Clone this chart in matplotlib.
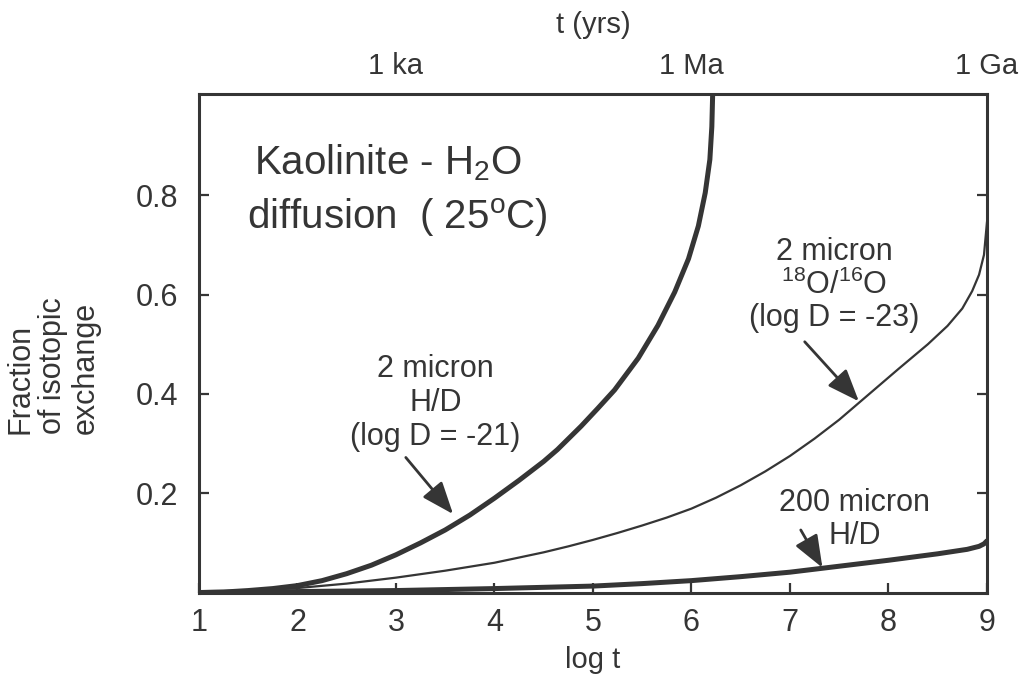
import matplotlib
matplotlib.use("Agg")
import matplotlib.pyplot as plt
import matplotlib as mpl

# log t (years) vs fraction of isotopic exchange
hd2_logt = [1.0, 1.25, 1.5, 1.75, 2.0, 2.25, 2.5, 2.75, 3.0, 3.25, 3.5, 3.75, 4.0,
            4.25, 4.5, 4.64, 4.88, 5.05, 5.22, 5.46, 5.66, 5.83, 5.97, 6.07, 6.14,
            6.187, 6.207, 6.215]
hd2_frac = [0.0, 0.001, 0.004, 0.008, 0.014, 0.024, 0.038, 0.055, 0.076, 0.1, 0.126,
            0.156, 0.19, 0.226, 0.264, 0.288, 0.335, 0.371, 0.408, 0.472, 0.538,
            0.605, 0.672, 0.738, 0.805, 0.872, 0.938, 1.0]

ox2_logt = [1.0, 1.5, 2.0, 2.5, 3.0, 3.5, 4.0, 4.5, 4.75, 5.0, 5.25, 5.5, 5.75, 6.0,
            6.25, 6.5, 6.75, 7.0, 7.25, 7.5, 7.8, 8.1, 8.4, 8.6, 8.75, 8.85, 8.92,
            8.97, 9.0]
ox2_frac = [0.0, 0.003, 0.009, 0.018, 0.03, 0.044, 0.06, 0.081, 0.093, 0.106, 0.12,
            0.135, 0.151, 0.169, 0.191, 0.216, 0.244, 0.275, 0.31, 0.348, 0.399,
            0.45, 0.5, 0.537, 0.572, 0.607, 0.64, 0.68, 0.745]

hd200_logt = [1.0, 2.0, 3.0, 4.0, 5.0, 5.5, 6.0, 6.5, 7.0, 7.5, 8.0, 8.5, 8.8, 8.92,
              8.97, 9.0]
hd200_frac = [0.0, 0.002, 0.004, 0.008, 0.013, 0.018, 0.024, 0.032, 0.041, 0.053,
              0.065, 0.078, 0.087, 0.093, 0.098, 0.104]

xticks = [1, 2, 3, 4, 5, 6, 7, 8, 9]
yticks = [0.2, 0.4, 0.6, 0.8]
age_ticks = [3, 6, 9]
age_labels = ["1 ka", "1 Ma", "1 Ga"]

ink = "#353535"

mpl.rc("font", family="Liberation Sans", size=22)
mpl.rc("mathtext", fontset="custom", rm="Liberation Sans", it="Liberation Sans:italic")
mpl.rc("text", color=ink)
mpl.rc("axes", edgecolor=ink, labelcolor=ink, linewidth=2.2)
mpl.rc("xtick", color=ink)
mpl.rc("ytick", color=ink)

fig = plt.figure(figsize=(10.24, 6.89), dpi=100)
ax = fig.add_axes([0.1943, 0.140, 0.7695, 0.7236])

ax.plot(hd2_logt, hd2_frac, color=ink, lw=3.6, solid_capstyle="butt")
ax.plot(ox2_logt, ox2_frac, color=ink, lw=1.6)
ax.plot(hd200_logt, hd200_frac, color=ink, lw=3.6, solid_capstyle="round")

ax.set_xlim(1, 9)
ax.set_ylim(0, 1.004)
ax.set_xticks(xticks)
ax.set_yticks(yticks)
ax.set_yticklabels([f"{v:.1f}" for v in yticks])
ax.tick_params(direction="in", top=True, right=True, length=7, width=1.6,
               labelsize=22)
ax.tick_params(axis="x", pad=11)
ax.tick_params(axis="y", pad=15)
ax.set_xlabel("log t", fontsize=21, labelpad=6)

# age axis along the top
top = ax.twiny()
top.set_xlim(ax.get_xlim())
top.set_xticks(age_ticks)
top.set_xticklabels(age_labels)
top.tick_params(length=0, pad=10, labelsize=21)
for s in top.spines.values():
    s.set_visible(False)
top.set_xlabel("t (yrs)", fontsize=21, labelpad=14)

fig.text(0.052, 1 - 366 / 689, "Fraction\nof isotopic\nexchange", rotation=90,
         ha="center", va="center", multialignment="left", fontsize=22,
         linespacing=1.12)

ax.text(1.56, 0.865, "Kaolinite - H$_2$O", fontsize=29, ha="left", va="center")
ax.text(1.49, 0.755, "diffusion  ( 25$^\\mathregular{o}$C)", fontsize=29,
        ha="left", va="center")

ax.text(3.40, 0.381, "2 micron\nH/D\n(log D = -21)", ha="center", va="center",
        fontsize=22, linespacing=1.18)
ax.text(7.45, 0.619, "2 micron\n$^{18}$O/$^{16}$O\n(log D = -23)", ha="center",
        va="center", fontsize=22, linespacing=1.1)
ax.text(7.66, 0.147, "200 micron\nH/D", ha="center", va="center", fontsize=22,
        linespacing=1.12)

arrow = dict(arrowstyle="-|>,head_length=0.9,head_width=0.35", color=ink, lw=2,
             mutation_scale=22, shrinkA=0, shrinkB=0)
ax.annotate("", xy=(3.58, 0.158), xytext=(3.10, 0.272), arrowprops=arrow)
ax.annotate("", xy=(7.70, 0.385), xytext=(7.15, 0.505), arrowprops=arrow)
ax.annotate("", xy=(7.33, 0.050), xytext=(7.11, 0.126), arrowprops=arrow)

fig.savefig("out.png", dpi=100, facecolor="white")
